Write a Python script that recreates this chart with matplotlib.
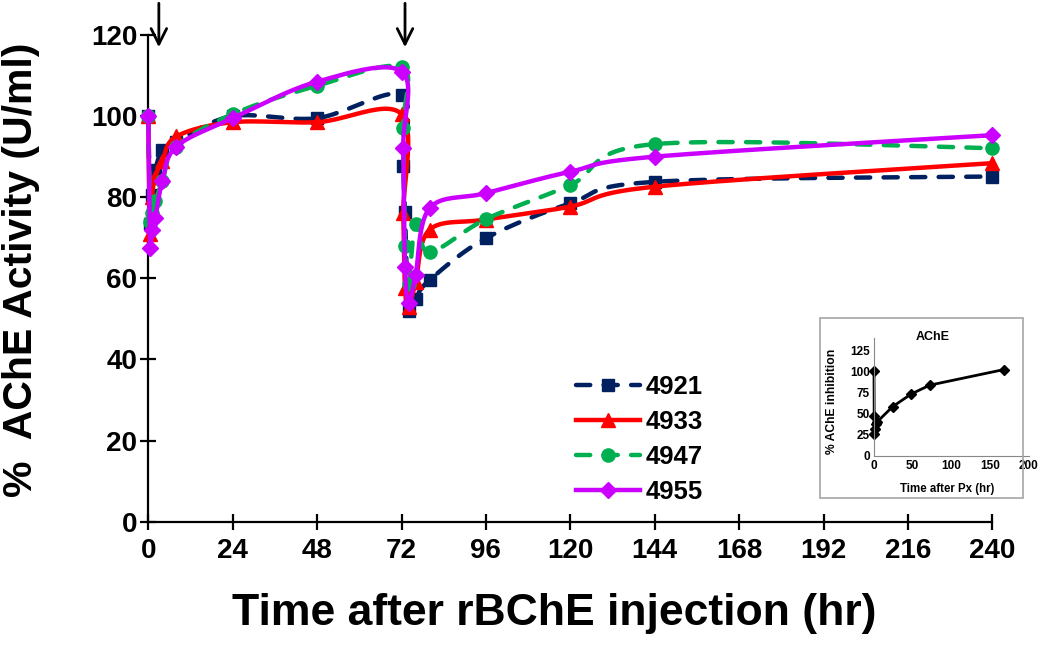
import numpy as np
import matplotlib
matplotlib.use("Agg")
import matplotlib.pyplot as plt
from matplotlib.patches import Rectangle

plt.rcParams['font.family'] = ['Liberation Sans', 'DejaVu Sans']
plt.rcParams['font.weight'] = 'bold'

# hours after rBChE injection
time = [0, 0.5, 1, 2, 4, 8, 24, 48, 72, 72.5, 73, 74, 76, 80, 96, 120, 144, 240]
act_4921 = [100, 73.5, 80.5, 86.7, 91.6, 93.7, 100, 99.5, 105.2, 87.8, 76.4, 52, 55, 59.6, 69.9, 78.5, 83.8, 85.1]
act_4933 = [100, 71, 80, 85, 89, 95, 98.5, 98.5, 100.5, 76, 57.5, 53, 59, 72, 74.5, 77.7, 82.6, 88.4]
act_4947 = [100, 74, 76, 79, 84, 92.5, 100.5, 107.5, 112, 97, 68, 58.5, 73.5, 66.5, 74.6, 83, 93.1, 92.1]
act_4955 = [100, 67.5, 72, 75, 84, 92.5, 99.5, 108.5, 111, 92.1, 62.9, 53.8, 60.8, 77.3, 81, 86.3, 90, 95.3]
animals = ['4921', '4933', '4947', '4955']
injections = [3, 73]

# inset: AChE inhibition after Px
inset_time = [0, 0.25, 0.5, 1, 2, 4, 24, 48, 72, 168]
inset_inhib = [100, 47, 26, 32, 37, 40, 58, 73, 83.5, 102]


def smooth(x, y, n=24):
    # excel-style bezier smoothing, done in (roughly) screen units
    sx, sy = 844 / 240, 487 / 120
    P = np.column_stack([np.asarray(x, float) * sx, np.asarray(y, float) * sy])
    out = [P[0]]
    t = np.linspace(0, 1, n)[1:, None]
    for i in range(len(P) - 1):
        p0 = P[max(i - 1, 0)]
        p1 = P[i]
        p2 = P[i + 1]
        p3 = P[min(i + 2, len(P) - 1)]
        c1 = p1 + (p2 - p0) / 6
        c2 = p2 - (p3 - p1) / 6
        seg = (1 - t)**3 * p1 + 3 * (1 - t)**2 * t * c1 + 3 * (1 - t) * t**2 * c2 + t**3 * p2
        out.extend(seg)
    out = np.array(out)
    return out[:, 0] / sx, out[:, 1] / sy


fig = plt.figure(figsize=(10.5, 6.45), dpi=100)
ax = fig.add_axes([148.3 / 1050, 1 - 521.7 / 645, 844 / 1050, 486.7 / 645])

styles = [
    dict(color='#002060', ls=(0, (3.2, 3.0)), marker='s', ms=8.5),
    dict(color='#FF0000', ls='-', marker='^', ms=10),
    dict(color='#00B050', ls=(0, (3.2, 3.0)), marker='o', ms=9.5),
    dict(color='#CC00FF', ls='-', marker='D', ms=8.5),
]
series = [act_4921, act_4933, act_4947, act_4955]

handles = []
for name, vals, st in zip(animals, series, styles):
    xs, ys = smooth(time, vals)
    ax.plot(xs, ys, color=st['color'], ls=st['ls'], lw=3.2, dash_capstyle='round',
            clip_on=False, zorder=3)
    ax.plot(time, vals, ls='none', marker=st['marker'], ms=st['ms'], color=st['color'],
            mec=st['color'], clip_on=False, zorder=3)
    h, = ax.plot([], [], color=st['color'], ls=st['ls'], lw=3.2, dash_capstyle='round',
                 marker=st['marker'], ms=st['ms'], label=name)
    handles.append(h)

ax.set_xlim(0, 240)
ax.set_ylim(0, 120)
ax.set_xticks(np.arange(0, 241, 24))
ax.set_yticks(np.arange(0, 121, 20))
for s in ['top', 'right']:
    ax.spines[s].set_visible(False)
for s in ['left', 'bottom']:
    ax.spines[s].set_linewidth(1.6)
ax.tick_params(direction='inout', length=12, width=1.6, labelsize=20)
ax.tick_params(axis='y', pad=2)
ax.tick_params(axis='x', pad=6)

for tx in injections:
    ax.annotate('', xy=(tx, 116.3), xytext=(tx, 128.5),
                arrowprops=dict(arrowstyle='->', lw=2, color='black', mutation_scale=28),
                annotation_clip=False)

fig.text(554 / 1050, 1 - 613 / 645, 'Time after rBChE injection (hr)', fontsize=32,
         fontweight='bold', ha='center', va='center')
fig.text(21 / 1050, 1 - 270 / 645, '%  AChE Activity (U/ml)', fontsize=29.5,
         fontweight='bold', ha='center', va='center', rotation=90)

ax.legend(handles=handles, loc='upper left', frameon=False, fontsize=18.5,
          bbox_to_anchor=(576 / 1050, 1 - 375 / 645), bbox_transform=fig.transFigure,
          borderaxespad=0, borderpad=0, handlelength=2.5, handletextpad=0.2,
          labelspacing=0.43)

# inset
fig.patches.append(Rectangle((820 / 1050, 1 - 498 / 645), 203 / 1050, 180 / 645,
                             transform=fig.transFigure, fill=False, ec='#a6a6a6', lw=1.2))
ins = fig.add_axes([874 / 1050, 1 - 455.7 / 645, 154.7 / 1050, 117.4 / 645])
ins.plot(inset_time, inset_inhib, color='black', lw=2, marker='D', ms=5, clip_on=False)
ins.set_xlim(0, 200)
ins.set_ylim(0, 139)
ins.set_xticks(np.arange(0, 201, 50))
ins.set_yticks(np.arange(0, 126, 25))
for s in ['top', 'right']:
    ins.spines[s].set_visible(False)
for s in ['left', 'bottom']:
    ins.spines[s].set_color('#888888')
ins.tick_params(length=0, labelsize=8.5, pad=3)
ins.patch.set_alpha(0)
fig.text(933 / 1050, 1 - 337 / 645, 'AChE', fontsize=9, fontweight='bold', ha='center', va='center')
fig.text(946.7 / 1050, 1 - 489 / 645, 'Time after Px (hr)', fontsize=8.3, fontweight='bold',
         ha='center', va='center')
fig.text(832 / 1050, 1 - 401.7 / 645, '% AChE inhibition', fontsize=8.7, fontweight='bold',
         ha='center', va='center', rotation=90)

fig.savefig('out.png', dpi=100)
